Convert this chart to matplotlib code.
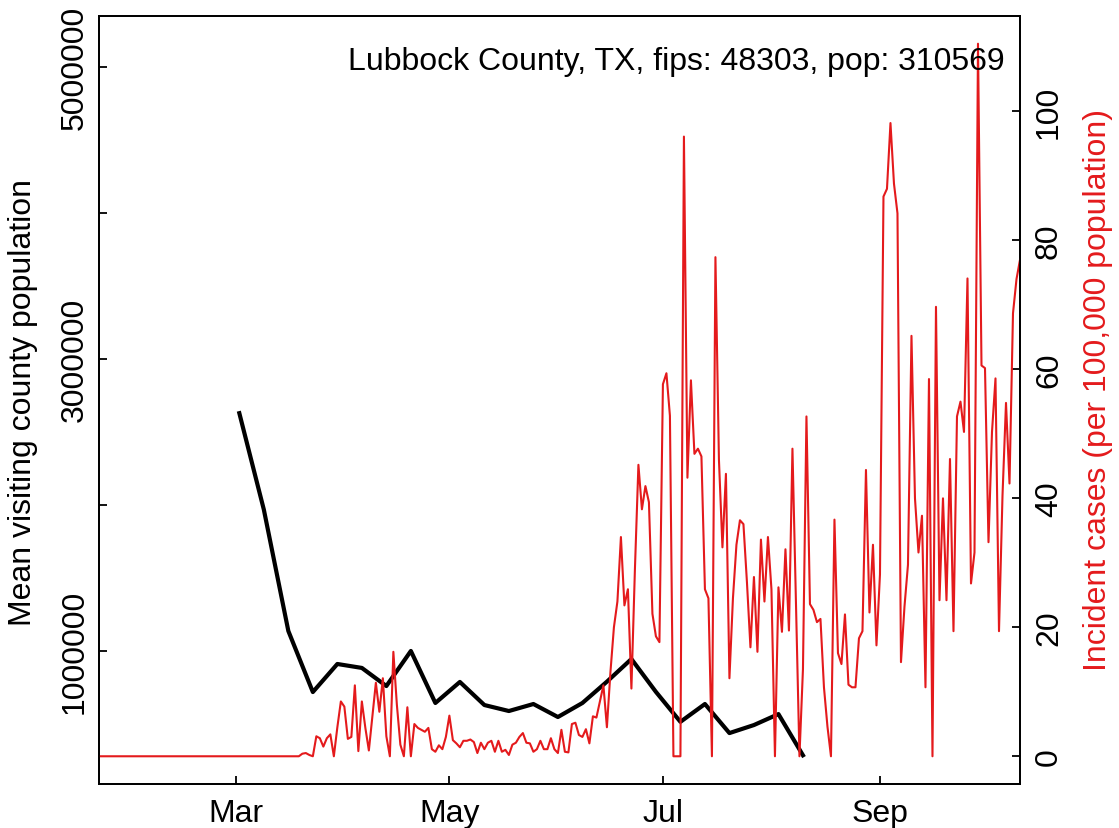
import matplotlib
matplotlib.use("Agg")
import matplotlib.pyplot as plt
import numpy as np
import pandas as pd

plt.rcParams['font.family'] = ['Liberation Sans', 'DejaVu Sans']

# daily incident cases per 100,000 (Jan 22 .. Oct 11, 2020)
case_dates = pd.date_range('2020-01-22', '2020-10-11', freq='D')
cases = [
    # Jan 22 - Feb 29
    0, 0, 0, 0, 0, 0, 0, 0, 0, 0, 0, 0, 0, 0, 0, 0, 0, 0, 0, 0,
    0, 0, 0, 0, 0, 0, 0, 0, 0, 0, 0, 0, 0, 0, 0, 0, 0, 0, 0,
    # Mar
    0, 0, 0, 0, 0, 0, 0, 0, 0, 0, 0, 0, 0, 0, 0, 0, 0, 0, 0, 0.4,
    0.5, 0.2, 0, 3.1, 2.8, 1.5, 2.8, 3.4, 0, 4.5, 8.5,
    # Apr
    7.7, 2.7, 3.0, 11.0, 0.8, 8.5, 4.4, 0.9, 6.2, 11.4,
    6.9, 12.1, 3.1, 0, 16.2, 8.0, 1.8, 0, 7.6, 0,
    5.0, 4.4, 4.1, 3.8, 4.4, 1.1, 0.7, 1.7, 1.1, 3.0,
    # May
    6.3, 2.5, 2.0, 1.4, 2.4, 2.4, 2.6, 2.2, 0.5, 2.1,
    1.1, 2.1, 2.4, 0.7, 2.4, 0.7, 1.0, 0.2, 1.8, 2.1,
    3.0, 3.6, 2.1, 2.0, 0.7, 1.1, 2.4, 1.1, 1.1, 2.8, 1.1,
    # Jun
    0.5, 4.1, 0.7, 0.6, 5.0, 5.2, 3.3, 3.0, 4.2, 2.0,
    6.2, 6.0, 8.5, 11.0, 4.5, 13.0, 20.0, 24.0, 34.0, 23.4,
    25.9, 10.5, 29.0, 45.2, 38.3, 41.9, 39.4, 22.1, 18.6, 17.7,
    # Jul
    57.7, 59.4, 52.8, 0, 0, 0, 96.1, 43.2, 58.3, 46.9,
    47.7, 46.5, 25.9, 24.5, 0, 77.4, 46.0, 32.4, 43.8, 12.1,
    24.5, 32.8, 36.6, 36.0, 27.0, 16.9, 27.8, 16.2, 33.6, 24.0, 34.0,
    # Aug
    25.9, 0, 26.2, 19.3, 32.1, 19.5, 47.7, 24.0, 0, 13.5,
    52.7, 23.6, 22.7, 20.8, 21.3, 10.7, 4.6, 0, 36.7, 16.0,
    14.3, 22.0, 11.1, 10.7, 10.7, 18.3, 19.4, 44.4, 22.3, 32.8, 17.2,
    # Sep
    28.2, 86.8, 88.0, 98.2, 88.8, 84.2, 14.6, 23.2, 29.7, 65.2,
    40.0, 31.6, 37.3, 10.7, 58.5, 0, 69.7, 24.2, 40.0, 24.2,
    46.1, 19.4, 52.7, 55.0, 50.3, 74.1, 26.8, 31.6, 110.5, 60.6,
    # Oct
    60.2, 33.2, 50.3, 58.6, 19.4, 40.4, 54.8, 42.3, 68.7, 74.0, 77.0,
]

# weekly mean visiting county population
visit_dates = pd.date_range('2020-03-02', periods=24, freq='7D')
visit_pop = [2628000, 1968000, 1137000, 719000, 911000, 884000, 760000, 1000000,
             644000, 788000, 630000, 589000, 637000, 548000, 644000, 790000,
             945000, 720000, 515000, 637000, 438000, 493000, 568000, 286000]

month_ticks = pd.to_datetime(['2020-03-01', '2020-05-01', '2020-07-01', '2020-09-01'])
month_labels = ['Mar', 'May', 'Jul', 'Sep']
left_ticks = [1000000, 2000000, 3000000, 4000000, 5000000]
left_labels = ['1000000', '', '3000000', '', '5000000']
right_ticks = [0, 20, 40, 60, 80, 100]

fs = 23
fig = plt.figure(figsize=(11.19, 8.29), dpi=100)
ax = fig.add_axes([99.3 / 1119, 1 - 785 / 829, (1020 - 99.3) / 1119, 768 / 829])
ax2 = ax.twinx()

ax.plot(visit_dates, visit_pop, color='black', lw=3)
ax2.plot(case_dates, cases, color='#e41a1c', lw=1.5)

ax.set_xlim(case_dates[0], case_dates[-1])
ax.set_ylim(0.0894e6, 5.347e6)
ax2.set_ylim(-4.3, 114.8)

ax.set_xticks(month_ticks)
ax.set_xticklabels(month_labels)
ax.set_yticks(left_ticks)
ax.set_yticklabels(left_labels)
ax2.set_yticks(right_ticks)
ax2.set_yticklabels([str(t) for t in right_ticks])

for a in (ax, ax2):
    a.tick_params(direction='in', length=6, width=1.3, labelsize=fs)
    for s in a.spines.values():
        s.set_linewidth(1.3)
ax.tick_params(axis='x', pad=10)
ax.tick_params(axis='y', pad=7)
ax2.tick_params(axis='y', pad=10)
for t in ax.get_yticklabels() + ax2.get_yticklabels():
    t.set_rotation(90)
    t.set_va('center')

fig.text(23 / 1119, 1 - 402 / 829, 'Mean visiting county population', rotation=90,
         ha='center', va='center', fontsize=fs)
fig.text(1098 / 1119, 1 - 390 / 829, 'Incident cases (per 100,000 population)', rotation=90,
         ha='center', va='center', fontsize=fs, color='#e41a1c')
fig.text(1005 / 1119, 1 - 70 / 829, 'Lubbock County, TX, fips: 48303, pop: 310569',
         ha='right', va='baseline', fontsize=fs)

fig.savefig('out.png', dpi=100)
